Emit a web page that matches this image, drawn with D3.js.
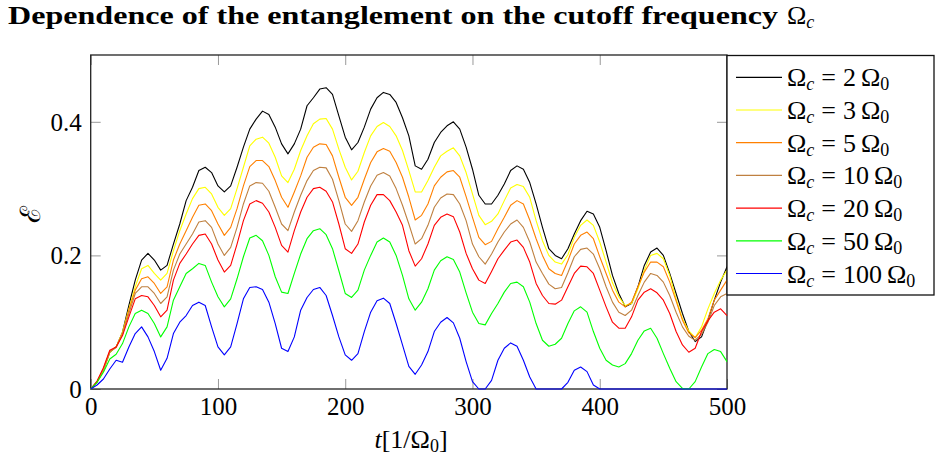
<!DOCTYPE html>
<html>
<head>
<meta charset="utf-8">
<script src="https://cdn.jsdelivr.net/npm/d3@7"></script>
<style>
  body { margin: 0; background: #fff; }
  svg { display: block; }
  text { font-family: "Liberation Serif", "DejaVu Serif", serif; fill: #000; white-space: pre; }
</style>
</head>
<body>
<svg id="chart" width="935" height="465"></svg>
<script>
// sampling grid of the curves, t in units of 1/Omega_0
var times = d3.range(0, 501, 5);

// entanglement E(t), one list per cutoff
var omega2 = [0,0.010,0.028,0.055,0.063,0.085,0.125,0.163,0.193,0.203,0.193,0.178,0.185,0.217,0.247,0.282,0.302,0.327,0.332,0.324,
  0.304,0.295,0.304,0.332,0.362,0.389,0.404,0.416,0.411,0.392,0.367,0.352,0.367,0.389,0.424,0.436,0.449,0.451,0.441,0.409,
  0.377,0.358,0.369,0.392,0.419,0.436,0.444,0.441,0.429,0.406,0.379,0.334,0.329,0.344,0.369,0.384,0.394,0.400,0.389,0.362,
  0.329,0.290,0.277,0.277,0.290,0.307,0.327,0.334,0.329,0.309,0.277,0.242,0.210,0.200,0.195,0.210,0.232,0.252,0.266,0.262,
  0.242,0.207,0.170,0.143,0.123,0.128,0.153,0.185,0.205,0.211,0.200,0.173,0.143,0.113,0.086,0.071,0.078,0.103,0.133,0.160,0.183];
var omega3 = [0,0.010,0.028,0.055,0.063,0.085,0.120,0.153,0.180,0.185,0.173,0.163,0.173,0.207,0.237,0.262,0.285,0.300,0.302,0.292,
  0.272,0.260,0.270,0.300,0.332,0.364,0.374,0.377,0.368,0.347,0.319,0.309,0.329,0.357,0.379,0.397,0.404,0.405,0.389,0.359,
  0.332,0.313,0.326,0.354,0.379,0.393,0.399,0.393,0.379,0.357,0.327,0.295,0.295,0.312,0.332,0.349,0.356,0.361,0.349,0.324,
  0.292,0.260,0.246,0.251,0.262,0.282,0.301,0.306,0.303,0.287,0.252,0.222,0.200,0.190,0.187,0.201,0.227,0.245,0.253,0.245,
  0.220,0.190,0.159,0.138,0.125,0.128,0.150,0.178,0.200,0.203,0.195,0.170,0.135,0.105,0.087,0.077,0.093,0.120,0.143,0.163,0.178];
var omega5 = [0,0.011,0.030,0.056,0.063,0.083,0.118,0.148,0.165,0.168,0.158,0.143,0.153,0.193,0.217,0.237,0.257,0.275,0.277,0.267,
  0.247,0.230,0.242,0.270,0.304,0.333,0.342,0.342,0.333,0.312,0.287,0.272,0.295,0.319,0.347,0.362,0.367,0.366,0.349,0.317,
  0.287,0.275,0.287,0.314,0.339,0.355,0.360,0.356,0.339,0.317,0.287,0.253,0.260,0.277,0.304,0.317,0.325,0.327,0.317,0.288,
  0.257,0.227,0.216,0.221,0.240,0.257,0.275,0.282,0.277,0.253,0.225,0.200,0.180,0.173,0.170,0.192,0.217,0.230,0.235,0.225,
  0.198,0.173,0.148,0.130,0.123,0.130,0.153,0.175,0.190,0.190,0.183,0.160,0.132,0.103,0.084,0.077,0.088,0.105,0.133,0.148,0.163];
var omega10 = [0,0.011,0.030,0.056,0.062,0.082,0.113,0.143,0.153,0.153,0.143,0.128,0.138,0.178,0.202,0.217,0.232,0.250,0.252,0.242,
  0.217,0.200,0.212,0.242,0.277,0.304,0.309,0.308,0.296,0.272,0.247,0.237,0.265,0.290,0.312,0.327,0.332,0.331,0.314,0.282,
  0.247,0.236,0.252,0.280,0.304,0.320,0.324,0.319,0.300,0.275,0.247,0.217,0.225,0.245,0.272,0.286,0.292,0.291,0.277,0.252,
  0.217,0.198,0.187,0.202,0.220,0.235,0.247,0.253,0.242,0.220,0.190,0.173,0.157,0.150,0.152,0.174,0.198,0.209,0.211,0.202,
  0.180,0.153,0.130,0.115,0.110,0.118,0.140,0.160,0.173,0.170,0.160,0.140,0.115,0.093,0.079,0.073,0.082,0.100,0.125,0.138,0.143];
var omega20 = [0,0.012,0.032,0.058,0.063,0.080,0.108,0.135,0.140,0.138,0.125,0.108,0.118,0.163,0.188,0.202,0.217,0.230,0.232,0.217,
  0.193,0.175,0.185,0.217,0.252,0.277,0.282,0.278,0.265,0.242,0.215,0.205,0.237,0.265,0.287,0.300,0.302,0.296,0.280,0.247,
  0.210,0.203,0.217,0.250,0.275,0.291,0.291,0.282,0.265,0.245,0.207,0.184,0.195,0.217,0.245,0.257,0.262,0.258,0.235,0.203,
  0.180,0.163,0.158,0.176,0.195,0.208,0.220,0.223,0.212,0.190,0.158,0.140,0.128,0.127,0.133,0.153,0.173,0.184,0.183,0.173,
  0.148,0.123,0.100,0.091,0.091,0.108,0.133,0.145,0.150,0.144,0.133,0.113,0.086,0.066,0.055,0.061,0.086,0.102,0.115,0.120,0.110];
var omega50 = [0,0.010,0.025,0.045,0.052,0.068,0.093,0.113,0.118,0.113,0.098,0.078,0.093,0.133,0.153,0.173,0.180,0.188,0.185,0.160,
  0.138,0.123,0.135,0.165,0.198,0.226,0.230,0.222,0.200,0.168,0.145,0.143,0.173,0.202,0.225,0.237,0.240,0.231,0.210,0.177,
  0.143,0.137,0.148,0.178,0.200,0.220,0.226,0.220,0.200,0.170,0.135,0.118,0.130,0.150,0.178,0.192,0.198,0.194,0.175,0.144,
  0.115,0.098,0.096,0.113,0.128,0.145,0.158,0.160,0.153,0.130,0.098,0.073,0.064,0.067,0.076,0.098,0.117,0.123,0.115,0.086,
  0.061,0.043,0.036,0.033,0.038,0.053,0.073,0.087,0.091,0.076,0.053,0.031,0.011,0.001,0,0.011,0.033,0.053,0.059,0.056,0.041];
var omega100 = [0,0.006,0.015,0.030,0.043,0.040,0.063,0.083,0.093,0.078,0.056,0.028,0.046,0.083,0.100,0.110,0.125,0.130,0.125,0.093,
  0.063,0.051,0.063,0.098,0.135,0.152,0.153,0.149,0.130,0.098,0.061,0.056,0.078,0.118,0.137,0.149,0.152,0.140,0.110,0.078,
  0.051,0.043,0.053,0.086,0.115,0.132,0.136,0.128,0.098,0.066,0.034,0.022,0.036,0.056,0.086,0.100,0.107,0.099,0.076,0.041,
  0.011,0,0,0.013,0.043,0.061,0.069,0.064,0.043,0.018,0,0,0,0,0,0.010,0.028,0.033,0.026,0.006,
  0,0,0,0,0,0,0,0,0,0,0,0,0,0,0,0,0,0,0,0,0];

var cutoffs = ["2", "3", "5", "10", "20", "50", "100"];
var seriesValues = [omega2, omega3, omega5, omega10, omega20, omega50, omega100];
var seriesColors = ["#000000", "#ffff00", "#ff8000", "#bf8040", "#ff0000", "#00ff00", "#0000ff"];

var xTicks = [0, 100, 200, 300, 400, 500];
var yTicks = [0, 0.2, 0.4];

var svg = d3.select("#chart");
// note: "top" is taken by window.top, so the plot edges get their own names
var plotLeft = 90.7, plotRight = 727, plotTop = 55, plotBottom = 389;

var x = d3.scaleLinear().domain([0, 500]).range([plotLeft, plotRight]);
var y = d3.scaleLinear().domain([0, 0.5]).range([plotBottom, plotTop]);

// title
svg.append("text")
  .attr("x", 8).attr("y", 24)
  .attr("textLength", 770).attr("lengthAdjust", "spacingAndGlyphs")
  .style("font-size", "26px").style("font-weight", "bold")
  .text("Dependence of the entanglement on the cutoff frequency");
var omegaTitle = svg.append("text")
  .attr("x", 787).attr("y", 24)
  .style("font-size", "26px");
omegaTitle.append("tspan").text("Ω");
omegaTitle.append("tspan").style("font-style", "italic").style("font-size", "18px").attr("dy", 4).text("c");

// ticks on all four sides, pointing inward
function styleTicks(g) {
  g.select(".domain").remove();
  g.selectAll(".tick line").attr("stroke", "#999").attr("stroke-width", 1);
}
svg.append("g").attr("transform", "translate(0," + plotBottom + ")")
  .call(d3.axisBottom(x).tickValues(xTicks).tickSizeInner(-10).tickSizeOuter(0))
  .call(styleTicks)
  .call(function (g) {
    g.selectAll(".tick text").attr("y", 26).attr("dy", 0)
      .style("font-size", "25px").style("font-family", "Liberation Serif");
  });
svg.append("g").attr("transform", "translate(0," + plotTop + ")")
  .call(d3.axisTop(x).tickValues(xTicks).tickSizeInner(-10).tickSizeOuter(0).tickFormat(""))
  .call(styleTicks);
svg.append("g").attr("transform", "translate(" + plotLeft + ",0)")
  .call(d3.axisLeft(y).tickValues(yTicks).tickSizeInner(-10).tickSizeOuter(0).tickFormat(d3.format("")))
  .call(styleTicks)
  .call(function (g) {
    g.selectAll(".tick text").attr("x", -9).attr("dy", "0.33em")
      .style("font-size", "25px").style("font-family", "Liberation Serif");
  });
svg.append("g").attr("transform", "translate(" + plotRight + ",0)")
  .call(d3.axisRight(y).tickValues(yTicks).tickSizeInner(-10).tickSizeOuter(0).tickFormat(""))
  .call(styleTicks);

// axis frame
svg.append("rect")
  .attr("x", plotLeft).attr("y", plotTop)
  .attr("width", plotRight - plotLeft).attr("height", plotBottom - plotTop)
  .attr("fill", "none").attr("stroke", "#222").attr("stroke-width", 1.3);

// curves
svg.append("clipPath").attr("id", "plotclip")
  .append("rect").attr("x", plotLeft - 1).attr("y", plotTop - 1)
  .attr("width", plotRight - plotLeft + 2).attr("height", plotBottom - plotTop + 2);

var line = d3.line()
  .x(function (d, i) { return x(times[i]); })
  .y(function (d) { return y(d); });

svg.append("g").attr("clip-path", "url(#plotclip)")
  .selectAll("path")
  .data(seriesValues)
  .join("path")
  .attr("d", line)
  .attr("fill", "none")
  .attr("stroke", function (d, i) { return seriesColors[i]; })
  .attr("stroke-width", 1.1)
  .attr("stroke-linejoin", "round");

// axis labels
var xLabel = svg.append("text")
  .attr("x", 411).attr("y", 448)
  .attr("text-anchor", "middle")
  .style("font-size", "26px");
xLabel.append("tspan").style("font-style", "italic").text("t");
xLabel.append("tspan").text("[1/Ω");
xLabel.append("tspan").style("font-size", "18px").attr("dy", 4).text("0");
xLabel.append("tspan").attr("dy", -4).text("]");

svg.append("text")
  .attr("transform", "translate(40,214) rotate(-90)")
  .attr("text-anchor", "middle")
  .style("font-family", "DejaVu Serif")
  .style("font-size", "28px")
  .text("ℰ");

// legend
var legend = svg.append("g");
legend.append("rect")
  .attr("x", 727).attr("y", 55.5)
  .attr("width", 207).attr("height", 239.5)
  .attr("fill", "#fff").attr("stroke", "#111").attr("stroke-width", 1.3);

var rows = legend.selectAll("g.row")
  .data(cutoffs)
  .join("g")
  .attr("class", "row")
  .attr("transform", function (d, i) { return "translate(0," + (77.3 + i * 32.7) + ")"; });

rows.append("line")
  .attr("x1", 736).attr("x2", 782)
  .attr("stroke", function (d, i) { return seriesColors[i]; })
  .attr("stroke-width", 1.2);

var labels = rows.append("text")
  .attr("x", 787).attr("y", 9)
  .style("font-size", "26px");
labels.append("tspan").text("Ω");
labels.append("tspan").style("font-style", "italic").style("font-size", "18px").attr("dy", 4).text("c");
labels.append("tspan").attr("dy", -4).attr("dx", 7).text("=");
labels.append("tspan").attr("dx", 7).text(function (d) { return d; });
labels.append("tspan").attr("dx", 5).text("Ω");
labels.append("tspan").style("font-size", "18px").attr("dy", 4).text("0");
</script>
</body>
</html>
